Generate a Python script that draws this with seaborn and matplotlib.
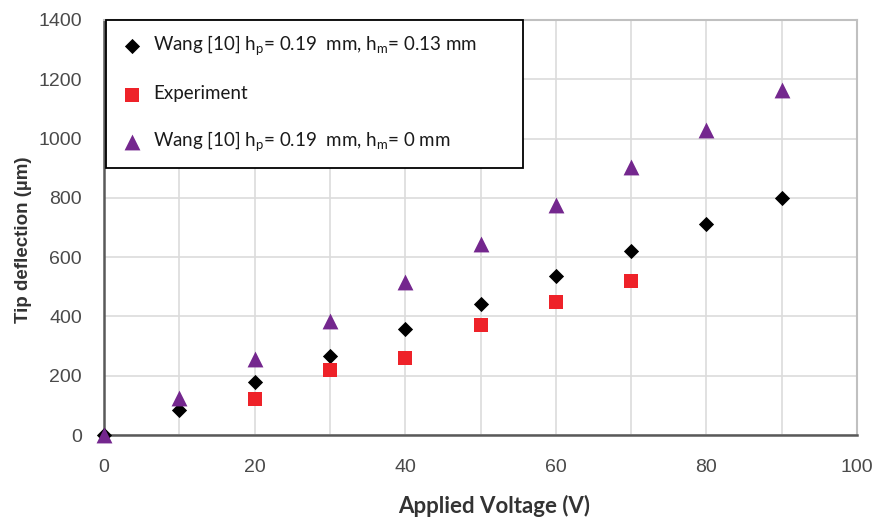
import pandas as pd
import numpy as np
import seaborn as sns
import matplotlib.pyplot as plt
from matplotlib.ticker import MultipleLocator

# values
volt_wang = [0, 10, 20, 30, 40, 50, 60, 70, 80, 90]
defl_wang_013 = [0, 85, 178, 265, 357, 443, 535, 622, 713, 800]
volt_exp = [20, 30, 40, 50, 60, 70]
defl_exp = [120, 220, 260, 370, 450, 520]
defl_wang_0 = [0, 125, 258, 385, 515, 645, 775, 905, 1030, 1163]

lab_013 = r'Wang [10] h$_\mathregular{p}$= 0.19  mm, h$_\mathregular{m}$= 0.13 mm'
lab_exp = 'Experiment'
lab_0 = r'Wang [10] h$_\mathregular{p}$= 0.19  mm, h$_\mathregular{m}$= 0 mm'

sns.set_style('white')
plt.rcParams['font.family'] = ['Liberation Sans', 'DejaVu Sans']
plt.rcParams['mathtext.fontset'] = 'custom'
plt.rcParams['mathtext.rm'] = 'Lato'

fig = plt.figure(figsize=(8.77, 5.18), dpi=100)
ax = fig.add_axes([0.1186, 0.1602, 0.8586, 0.8012])

sns.scatterplot(x=volt_wang, y=defl_wang_013, marker='D', s=60, color='black',
                edgecolor='black', linewidth=0, label=lab_013, ax=ax, zorder=3)
sns.scatterplot(x=volt_exp, y=defl_exp, marker='s', s=110, color='#ee2229',
                linewidth=0, label=lab_exp, ax=ax, zorder=3)
sns.scatterplot(x=volt_wang, y=defl_wang_0, marker='^', s=130, color='#74278e',
                linewidth=0, label=lab_0, ax=ax, zorder=4)
for coll in ax.collections:
    coll.set_clip_on(False)

ax.set_xlim(0, 100)
ax.set_ylim(0, 1400)
ax.xaxis.set_major_locator(MultipleLocator(20))
ax.xaxis.set_minor_locator(MultipleLocator(10))
ax.yaxis.set_major_locator(MultipleLocator(200))
ax.grid(True, which='minor', axis='x', color='#dcdcdc', linewidth=1.2)
ax.grid(True, which='major', axis='both', color='#dcdcdc', linewidth=1.2)
ax.set_axisbelow(True)

for side in ['left', 'bottom']:
    ax.spines[side].set_color('#595959')
    ax.spines[side].set_linewidth(1.8)
for side in ['top', 'right']:
    ax.spines[side].set_color('#c0c0c0')
    ax.spines[side].set_linewidth(1.5)

ax.tick_params(axis='both', which='major', direction='out', length=5, width=1.2,
               color='#595959', labelsize=14, labelcolor='#4a4a4a')
ax.tick_params(axis='x', which='major', pad=12)
ax.tick_params(axis='y', which='major', pad=11)
ax.tick_params(axis='x', which='minor', length=0)

ax.set_xlabel('Applied Voltage (V)', fontsize=16, fontweight='bold',
              family='Lato', color='#333333')
ax.set_ylabel('Tip deflection (\u00b5m)', fontsize=13.5, fontweight='bold',
              color='#333333')
ax.xaxis.set_label_coords(0.518, -0.145)
ax.yaxis.set_label_coords(-0.095, 0.47)

leg = ax.legend(loc='upper left', bbox_to_anchor=(0.002, 0.6, 0.554, 0.4),
                mode='expand', frameon=True, fancybox=False, framealpha=1,
                edgecolor='black', prop={'family': 'Lato', 'size': 13.5},
                labelspacing=1.45, handletextpad=0.5, borderpad=0.75,
                handlelength=1.3, borderaxespad=0)
leg.get_frame().set_linewidth(1.3)
for t in leg.get_texts():
    t.set_color('#1a1a1a')

plt.savefig('out.png', dpi=100)
